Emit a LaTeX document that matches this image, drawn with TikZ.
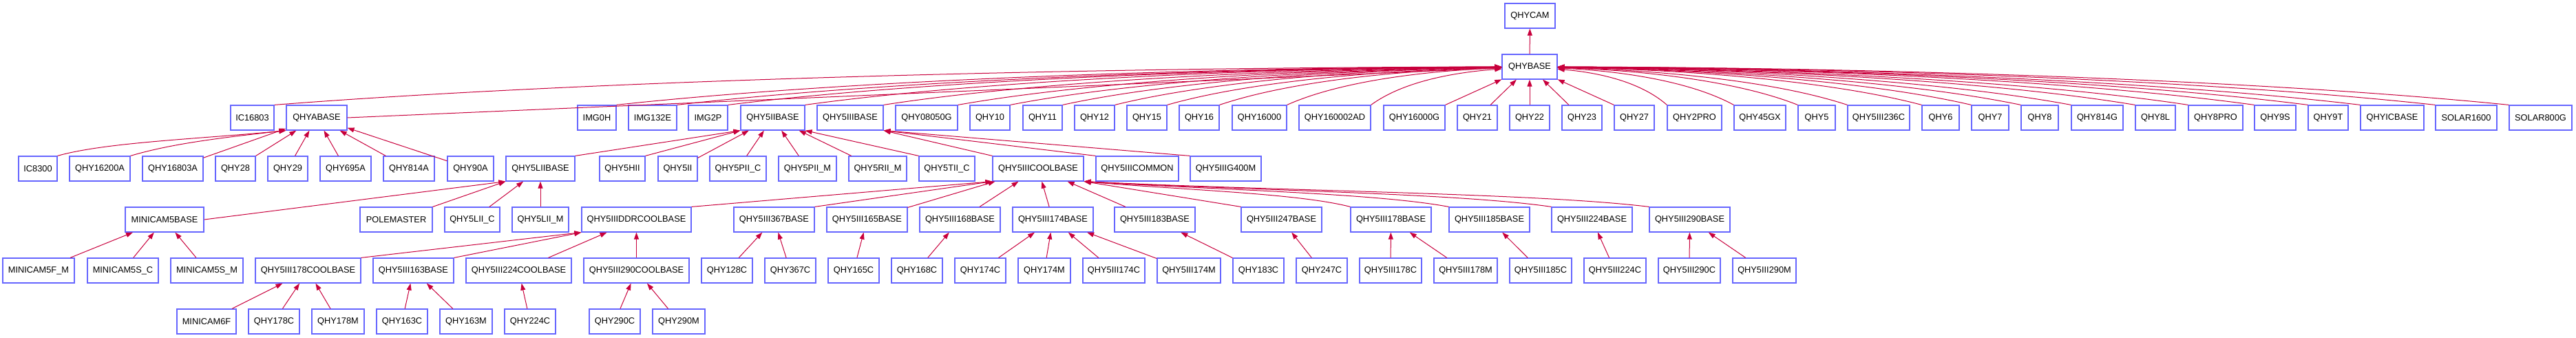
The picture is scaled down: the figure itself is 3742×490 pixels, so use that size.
\documentclass[tikz,border=0pt]{standalone}
\usepackage{fontspec}
\setmainfont{Liberation Sans}
\usepackage{tikz}
\usetikzlibrary{arrows.meta}
\definecolor{boxblue}{RGB}{102,102,255}
\definecolor{edgered}{RGB}{200,0,60}

\begin{document}
\begin{tikzpicture}[x=1pt, y=-1pt, >={Triangle[length=10pt, width=7pt]},
		cls/.style={rectangle, draw=boxblue, line width=1.2pt, fill=white, minimum height=36pt, inner sep=2pt, font=\fontsize{12.8}{14}\selectfont},
		inh/.style={->, draw=edgered, line width=1pt}]
		
		\useasboundingbox (0,0) rectangle (3742,490);
		
		% Raiz
		\node[cls, minimum width=73pt] (qhycam) at (2222.5,23) {QHYCAM};
		\node[cls, minimum width=80pt] (qhybase) at (2222,97) {QHYBASE};
		
		% Nivel 2
		\node[cls, minimum width=63pt] (ic16803) at (366.5,171) {IC16803};
		\node[cls, minimum width=88pt] (qhyabase) at (460,171) {QHYABASE};
		\node[cls, minimum width=56pt] (img0h) at (867,171) {IMG0H};
		\node[cls, minimum width=70pt] (img132e) at (948,171) {IMG132E};
		\node[cls, minimum width=57pt] (img2p) at (1028.5,171) {IMG2P};
		\node[cls, minimum width=93pt] (qhy5iibase) at (1122.5,171) {QHY5IIBASE};
		\node[cls, minimum width=96pt] (qhy5iiibase) at (1235,171) {QHY5IIIBASE};
		\node[cls, minimum width=90pt] (qhy08050g) at (1346,171) {QHY08050G};
		\node[cls, minimum width=58pt] (qhy10) at (1438,171) {QHY10};
		\node[cls, minimum width=57pt] (qhy11) at (1514.5,171) {QHY11};
		\node[cls, minimum width=58pt] (qhy12) at (1590,171) {QHY12};
		\node[cls, minimum width=58pt] (qhy15) at (1666,171) {QHY15};
		\node[cls, minimum width=58pt] (qhy16) at (1742,171) {QHY16};
		\node[cls, minimum width=79pt] (qhy16000) at (1829.5,171) {QHY16000};
		\node[cls, minimum width=104pt] (qhy160002ad) at (1939,171) {QHY160002AD};
		\node[cls, minimum width=89pt] (qhy16000g) at (2054.5,171) {QHY16000G};
		\node[cls, minimum width=58pt] (qhy21) at (2146,171) {QHY21};
		\node[cls, minimum width=58pt] (qhy22) at (2222,171) {QHY22};
		\node[cls, minimum width=58pt] (qhy23) at (2298,171) {QHY23};
		\node[cls, minimum width=58pt] (qhy27) at (2374,171) {QHY27};
		\node[cls, minimum width=79pt] (qhy2pro) at (2461.5,171) {QHY2PRO};
		\node[cls, minimum width=75pt] (qhy45gx) at (2556.5,171) {QHY45GX};
		\node[cls, minimum width=54pt] (qhy5) at (2639,171) {QHY5};
		\node[cls, minimum width=90pt] (qhy5iii236c) at (2729,171) {QHY5III236C};
		\node[cls, minimum width=54pt] (qhy6) at (2819,171) {QHY6};
		\node[cls, minimum width=54pt] (qhy7) at (2891,171) {QHY7};
		\node[cls, minimum width=54pt] (qhy8) at (2963,171) {QHY8};
		\node[cls, minimum width=75pt] (qhy814g) at (3046.5,171) {QHY814G};
		\node[cls, minimum width=58pt] (qhy8l) at (3131,171) {QHY8L};
		\node[cls, minimum width=79pt] (qhy8pro) at (3218.5,171) {QHY8PRO};
		\node[cls, minimum width=60pt] (qhy9s) at (3305,171) {QHY9S};
		\node[cls, minimum width=58pt] (qhy9t) at (3382,171) {QHY9T};
		\node[cls, minimum width=92pt] (qhyicbase) at (3475,171) {QHYICBASE};
		\node[cls, minimum width=89pt] (solar1600) at (3582.5,171) {SOLAR1600};
		\node[cls, minimum width=91pt] (solar800g) at (3690.5,171) {SOLAR800G};
		
		% Nivel 3
		\node[cls, minimum width=56pt] (ic8300) at (55,245) {IC8300};
		\node[cls, minimum width=88pt] (qhy16200a) at (145,245) {QHY16200A};
		\node[cls, minimum width=88pt] (qhy16803a) at (251,245) {QHY16803A};
		\node[cls, minimum width=58pt] (qhy28) at (342,245) {QHY28};
		\node[cls, minimum width=58pt] (qhy29) at (418,245) {QHY29};
		\node[cls, minimum width=74pt] (qhy695a) at (502,245) {QHY695A};
		\node[cls, minimum width=74pt] (qhy814a) at (594,245) {QHY814A};
		\node[cls, minimum width=67pt] (qhy90a) at (683.5,245) {QHY90A};
		\node[cls, minimum width=100pt] (qhy5liibase) at (785,245) {QHY5LIIBASE};
		\node[cls, minimum width=66pt] (qhy5hii) at (904,245) {QHY5HII};
		\node[cls, minimum width=57pt] (qhy5ii) at (984.5,245) {QHY5II};
		\node[cls, minimum width=82pt] (qhy5piic) at (1072,245) {QHY5PII\_C};
		\node[cls, minimum width=84pt] (qhy5piim) at (1173,245) {QHY5PII\_M};
		\node[cls, minimum width=84pt] (qhy5riim) at (1275,245) {QHY5RII\_M};
		\node[cls, minimum width=81pt] (qhy5tiic) at (1375.5,245) {QHY5TII\_C};
		\node[cls, minimum width=132pt] (qhy5iiicoolbase) at (1508,245) {QHY5IIICOOLBASE};
		\node[cls, minimum width=120pt] (qhy5iiicommon) at (1652,245) {QHY5IIICOMMON};
		\node[cls, minimum width=103pt] (qhy5iiig400m) at (1780.5,245) {QHY5IIIG400M};
		
		% Nivel 4
		\node[cls, minimum width=114pt] (minicam5base) at (239,319) {MINICAM5BASE};
		\node[cls, minimum width=105pt] (polemaster) at (575.5,319) {POLEMASTER};
		\node[cls, minimum width=80pt] (qhy5liic) at (686,319) {QHY5LII\_C};
		\node[cls, minimum width=82pt] (qhy5liim) at (785,319) {QHY5LII\_M};
		\node[cls, minimum width=159pt] (qhy5iiiddrcoolbase) at (924.5,319) {QHY5IIIDDRCOOLBASE};
		\node[cls, minimum width=117pt] (qhy5iii367base) at (1124.5,319) {QHY5III367BASE};
		\node[cls, minimum width=117pt] (qhy5iii165base) at (1259.5,319) {QHY5III165BASE};
		\node[cls, minimum width=117pt] (qhy5iii168base) at (1394.5,319) {QHY5III168BASE};
		\node[cls, minimum width=117pt] (qhy5iii174base) at (1529.5,319) {QHY5III174BASE};
		\node[cls, minimum width=117pt] (qhy5iii183base) at (1677.5,319) {QHY5III183BASE};
		\node[cls, minimum width=117pt] (qhy5iii247base) at (1861.5,319) {QHY5III247BASE};
		\node[cls, minimum width=117pt] (qhy5iii178base) at (2020.5,319) {QHY5III178BASE};
		\node[cls, minimum width=117pt] (qhy5iii185base) at (2163.5,319) {QHY5III185BASE};
		\node[cls, minimum width=117pt] (qhy5iii224base) at (2312.5,319) {QHY5III224BASE};
		\node[cls, minimum width=117pt] (qhy5iii290base) at (2454.5,319) {QHY5III290BASE};
		
		% Nivel 5
		\node[cls, minimum width=104pt] (minicam5fm) at (56,393) {MINICAM5F\_M};
		\node[cls, minimum width=103pt] (minicam5sc) at (178.5,393) {MINICAM5S\_C};
		\node[cls, minimum width=105pt] (minicam5sm) at (300.5,393) {MINICAM5S\_M};
		\node[cls, minimum width=153pt] (qhy5iii178coolbase) at (447.5,393) {QHY5III178COOLBASE};
		\node[cls, minimum width=117pt] (qhy5iii163base) at (600.5,393) {QHY5III163BASE};
		\node[cls, minimum width=153pt] (qhy5iii224coolbase) at (753.5,393) {QHY5III224COOLBASE};
		\node[cls, minimum width=153pt] (qhy5iii290coolbase) at (924.5,393) {QHY5III290COOLBASE};
		\node[cls, minimum width=74pt] (qhy128c) at (1056,393) {QHY128C};
		\node[cls, minimum width=74pt] (qhy367c) at (1148,393) {QHY367C};
		\node[cls, minimum width=74pt] (qhy165c) at (1240,393) {QHY165C};
		\node[cls, minimum width=74pt] (qhy168c) at (1332,393) {QHY168C};
		\node[cls, minimum width=74pt] (qhy174c) at (1424,393) {QHY174C};
		\node[cls, minimum width=76pt] (qhy174m) at (1517,393) {QHY174M};
		\node[cls, minimum width=90pt] (qhy5iii174c) at (1618,393) {QHY5III174C};
		\node[cls, minimum width=92pt] (qhy5iii174m) at (1727,393) {QHY5III174M};
		\node[cls, minimum width=74pt] (qhy183c) at (1828,393) {QHY183C};
		\node[cls, minimum width=74pt] (qhy247c) at (1920,393) {QHY247C};
		\node[cls, minimum width=90pt] (qhy5iii178c) at (2020,393) {QHY5III178C};
		\node[cls, minimum width=92pt] (qhy5iii178m) at (2129,393) {QHY5III178M};
		\node[cls, minimum width=90pt] (qhy5iii185c) at (2238,393) {QHY5III185C};
		\node[cls, minimum width=90pt] (qhy5iii224c) at (2346,393) {QHY5III224C};
		\node[cls, minimum width=90pt] (qhy5iii290c) at (2454,393) {QHY5III290C};
		\node[cls, minimum width=92pt] (qhy5iii290m) at (2563,393) {QHY5III290M};
		
		% Nivel 6
		\node[cls, minimum width=86pt] (minicam6f) at (300,467) {MINICAM6F};
		\node[cls, minimum width=74pt] (qhy178c) at (398,467) {QHY178C};
		\node[cls, minimum width=76pt] (qhy178m) at (491,467) {QHY178M};
		\node[cls, minimum width=74pt] (qhy163c) at (584,467) {QHY163C};
		\node[cls, minimum width=76pt] (qhy163m) at (677,467) {QHY163M};
		\node[cls, minimum width=74pt] (qhy224c) at (770,467) {QHY224C};
		\node[cls, minimum width=74pt] (qhy290c) at (893,467) {QHY290C};
		\node[cls, minimum width=76pt] (qhy290m) at (986,467) {QHY290M};
		
		% Heranca: QHYBASE
		\draw[inh] (qhybase) -- (qhycam);
		\draw[inh] (ic16803.north east) .. controls +(446,-35) and +(-664,1) .. (qhybase);
		\draw[inh] (qhyabase.east) -- (qhybase);
		\draw[inh] (img0h.north east) .. controls +(322,-35) and +(-490,1) .. (qhybase);
		\draw[inh] (img132e.north east) .. controls +(300,-35) and +(-460,2) .. (qhybase);
		\draw[inh] (img2p.north east) .. controls +(281,-35) and +(-434,2) .. (qhybase);
		\draw[inh] (qhy5iibase.north east) .. controls +(253,-35) and +(-395,2) .. (qhybase);
		\draw[inh] (qhy5iiibase.north east) .. controls +(225,-35) and +(-355,3) .. (qhybase);
		\draw[inh] (qhy08050g.north east) .. controls +(198,-35) and +(-317,3) .. (qhybase);
		\draw[inh] (qhy10.north east) .. controls +(179,-35) and +(-290,4) .. (qhybase);
		\draw[inh] (qhy11.north east) .. controls +(160,-35) and +(-264,4) .. (qhybase);
		\draw[inh] (qhy12.north east) .. controls +(141,-35) and +(-237,4) .. (qhybase);
		\draw[inh] (qhy15.north east) .. controls +(122,-35) and +(-210,5) .. (qhybase);
		\draw[inh] (qhy16.north east) .. controls +(103,-35) and +(-184,5) .. (qhybase);
		\draw[inh] (qhy16000.north east) .. controls +(78,-35) and +(-150,6) .. (qhybase);
		\draw[inh] (qhy160002ad.north east) .. controls +(48,-35) and +(-107,8) .. (qhybase);
		\draw[inh] (qhy16000g.north east) -- (qhybase);
		\draw[inh] (qhy21) -- (qhybase);
		\draw[inh] (qhy22) -- (qhybase);
		\draw[inh] (qhy23) -- (qhybase);
		\draw[inh] (qhy27.north west) -- (qhybase);
		\draw[inh] (qhy2pro.north west) .. controls +(-40,-35) and +(96,8) .. (qhybase);
		\draw[inh] (qhy45gx.north west) .. controls +(-64,-35) and +(130,6) .. (qhybase);
		\draw[inh] (qhy5.north west) .. controls +(-88,-35) and +(162,5) .. (qhybase);
		\draw[inh] (qhy5iii236c.north west) .. controls +(-106,-35) and +(188,5) .. (qhybase);
		\draw[inh] (qhy6.north west) .. controls +(-132,-35) and +(226,4) .. (qhybase);
		\draw[inh] (qhy7.north west) .. controls +(-150,-35) and +(251,4) .. (qhybase);
		\draw[inh] (qhy8.north west) .. controls +(-168,-35) and +(276,4) .. (qhybase);
		\draw[inh] (qhy814g.north west) .. controls +(-187,-35) and +(301,3) .. (qhybase);
		\draw[inh] (qhy8l.north west) .. controls +(-210,-35) and +(334,3) .. (qhybase);
		\draw[inh] (qhy8pro.north west) .. controls +(-229,-35) and +(361,3) .. (qhybase);
		\draw[inh] (qhy9s.north west) .. controls +(-253,-35) and +(395,2) .. (qhybase);
		\draw[inh] (qhy9t.north west) .. controls +(-273,-35) and +(422,2) .. (qhybase);
		\draw[inh] (qhyicbase.north west) .. controls +(-292,-35) and +(448,2) .. (qhybase);
		\draw[inh] (solar1600.north west) .. controls +(-319,-35) and +(487,1) .. (qhybase);
		\draw[inh] (solar800g.north west) .. controls +(-346,-35) and +(524,1) .. (qhybase);
		
		% Heranca: QHYABASE
		\draw[inh] (ic8300.north east) .. controls +(70,-20) and +(-120,12) .. (qhyabase.south west);
		\draw[inh] (qhy16200a.north east) .. controls +(60,-18) and +(-90,10) .. (qhyabase.south west);
		\draw[inh] (qhy16803a) -- (qhyabase);
		\draw[inh] (qhy28) -- (qhyabase);
		\draw[inh] (qhy29) -- (qhyabase);
		\draw[inh] (qhy695a) -- (qhyabase);
		\draw[inh] (qhy814a) -- (qhyabase);
		\draw[inh] (qhy90a) -- (qhyabase);
		
		% Heranca: QHY5IIBASE e QHY5IIIBASE
		\draw[inh] (qhy5liibase.north east) -- (qhy5iibase.south west);
		\draw[inh] (qhy5hii.north east) -- (qhy5iibase.south west);
		\draw[inh] (qhy5ii) -- (qhy5iibase);
		\draw[inh] (qhy5piic) -- (qhy5iibase);
		\draw[inh] (qhy5piim) -- (qhy5iibase);
		\draw[inh] (qhy5riim) -- (qhy5iibase);
		\draw[inh] (qhy5tiic.north west) -- (qhy5iibase.south east);
		\draw[inh] (qhy5iiicoolbase.north west) -- (qhy5iiibase.south east);
		\draw[inh] (qhy5iiicommon.north west) -- (qhy5iiibase.south east);
		\draw[inh] (qhy5iiig400m.north west) -- (qhy5iiibase.south east);
		
		% Heranca: QHY5LIIBASE
		\draw[inh] (minicam5base.east) -- (qhy5liibase.south west);
		\draw[inh] (polemaster.north east) -- (qhy5liibase.south west);
		\draw[inh] (qhy5liic) -- (qhy5liibase);
		\draw[inh] (qhy5liim) -- (qhy5liibase);
		
		% Heranca: QHY5IIICOOLBASE
		\draw[inh] (qhy5iiiddrcoolbase.north east) -- (qhy5iiicoolbase.south west);
		\draw[inh] (qhy5iii367base.north east) -- (qhy5iiicoolbase.south west);
		\draw[inh] (qhy5iii165base) -- (qhy5iiicoolbase);
		\draw[inh] (qhy5iii168base) -- (qhy5iiicoolbase);
		\draw[inh] (qhy5iii174base) -- (qhy5iiicoolbase);
		\draw[inh] (qhy5iii183base) -- (qhy5iiicoolbase);
		\draw[inh] (qhy5iii247base.north west) -- (qhy5iiicoolbase.south east);
		\draw[inh] (qhy5iii178base.north west) .. controls +(-77,-20) and +(135,12) .. (qhy5iiicoolbase.south east);
		\draw[inh] (qhy5iii185base.north west) .. controls +(-106,-20) and +(186,12) .. (qhy5iiicoolbase.south east);
		\draw[inh] (qhy5iii224base.north west) .. controls +(-136,-20) and +(238,13) .. (qhy5iiicoolbase.south east);
		\draw[inh] (qhy5iii290base.north west) .. controls +(-164,-20) and +(287,14) .. (qhy5iiicoolbase.south east);
		
		% Heranca: nivel 5
		\draw[inh] (minicam5fm) -- (minicam5base);
		\draw[inh] (minicam5sc) -- (minicam5base);
		\draw[inh] (minicam5sm) -- (minicam5base);
		\draw[inh] (qhy5iii178coolbase.north east) -- (qhy5iiiddrcoolbase.south west);
		\draw[inh] (qhy5iii163base.north east) -- (qhy5iiiddrcoolbase.south west);
		\draw[inh] (qhy5iii224coolbase) -- (qhy5iiiddrcoolbase);
		\draw[inh] (qhy5iii290coolbase) -- (qhy5iiiddrcoolbase);
		\draw[inh] (qhy128c) -- (qhy5iii367base);
		\draw[inh] (qhy367c) -- (qhy5iii367base);
		\draw[inh] (qhy165c) -- (qhy5iii165base);
		\draw[inh] (qhy168c) -- (qhy5iii168base);
		\draw[inh] (qhy174c) -- (qhy5iii174base);
		\draw[inh] (qhy174m) -- (qhy5iii174base);
		\draw[inh] (qhy5iii174c) -- (qhy5iii174base);
		\draw[inh] (qhy5iii174m) -- (qhy5iii174base);
		\draw[inh] (qhy183c) -- (qhy5iii183base);
		\draw[inh] (qhy247c) -- (qhy5iii247base);
		\draw[inh] (qhy5iii178c) -- (qhy5iii178base);
		\draw[inh] (qhy5iii178m) -- (qhy5iii178base);
		\draw[inh] (qhy5iii185c) -- (qhy5iii185base);
		\draw[inh] (qhy5iii224c) -- (qhy5iii224base);
		\draw[inh] (qhy5iii290c) -- (qhy5iii290base);
		\draw[inh] (qhy5iii290m) -- (qhy5iii290base);
		
		% Heranca: nivel 6
		\draw[inh] (minicam6f) -- (qhy5iii178coolbase);
		\draw[inh] (qhy178c) -- (qhy5iii178coolbase);
		\draw[inh] (qhy178m) -- (qhy5iii178coolbase);
		\draw[inh] (qhy163c) -- (qhy5iii163base);
		\draw[inh] (qhy163m) -- (qhy5iii163base);
		\draw[inh] (qhy224c) -- (qhy5iii224coolbase);
		\draw[inh] (qhy290c) -- (qhy5iii290coolbase);
		\draw[inh] (qhy290m) -- (qhy5iii290coolbase);
		
	\end{tikzpicture}
\end{document}
